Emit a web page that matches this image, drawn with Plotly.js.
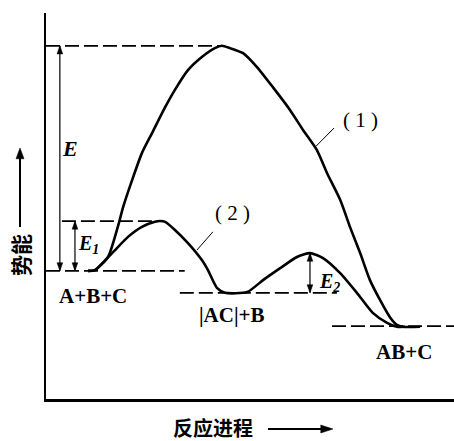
<!DOCTYPE html>
<html><head><meta charset="utf-8">
<script src="https://cdn.plot.ly/plotly-3.0.1.min.js"></script>
<style>html,body{margin:0;padding:0;background:#fff;}#chart{width:454px;height:441px;}</style>
</head><body><div id="chart"></div>
<script>
// Reaction progress (x, 0-100) and potential energy (y, 0-100)
const curve1X = [10.3,12.0,15.2,17.6,18.9,21.1,23.5,26.0,29.2,31.6,34.8,38.2,41.4,43.1,45.1,48.3,51.7,55.6,59.8,63.0,66.4,68.9,72.1,74.5,77.0,79.4,81.9,84.3,86.0,87.5,91.7];
const curve1Y = [33.2,33.4,36.8,44.6,49.7,56.7,63.7,68.9,75.6,80.1,85.2,88.6,90.9,91.5,90.9,89.6,86.0,80.8,74.9,69.7,64.5,58.5,51.6,44.6,37.8,30.8,25.6,21.2,19.2,18.7,18.7];
const curve2X = [10.3,12.0,16.2,20.1,23.5,26.7,27.9,29.2,31.6,34.8,38.2,39.7,41.9,43.9,49.3,53.2,57.4,61.5,64.7,67.9,72.1,76.2,80.1,83.6,86.0,88.0];
const curve2Y = [33.2,33.4,37.8,42.0,44.6,45.9,46.1,45.9,43.8,40.4,36.0,33.4,28.8,27.5,27.7,30.8,33.9,36.8,37.8,36.5,32.6,27.5,22.3,19.7,18.7,18.7];

// Energy levels (dashed guide lines)
const levelNames = ['E peak','E1 peak','A+B+C','[AC]+B','AB+C'];
const levelY  = [91.5, 46.1, 33.2, 27.5, 18.9];
const levelX0 = [0, 3.9, 0, 32.8, 70.1];
const levelX1 = [43.1, 28.0, 34.0, 71.3, 100];

// Energy-difference arrows
const arrowNames = ['E','E<sub>1</sub>','E<sub>2</sub>'];
const arrowX    = [3.4, 7.1, 64.7];
const arrowYTop = [91.5, 46.1, 37.8];
const arrowYBot = [33.2, 33.2, 27.5];
const arrowLabelX = [5.9, 10.3, 69.4];
const arrowLabelY = [65.0, 39.9, 30.1];

// Text labels
const labelText = ['A+B+C','|AC|+B','AB+C'];
const labelX = [11.5, 45.6, 87.7];
const labelY = [26.7, 21.8, 12.2];

const curveNames = ['( 1 )','( 2 )'];
const curveLabelX = [77.0, 45.8];
const curveLabelY = [72.3, 48.2];
const leaderX0 = [66.2, 37.0], leaderY0 = [65.5, 38.6];
const leaderX1 = [70.6, 40.9], leaderY1 = [70.2, 43.3];

const axisTitleX = '反应进程';
const axisTitleY = '势能';

const serif = 'Liberation Serif, Times New Roman, serif';
const cjk = 'Noto Sans CJK SC';

const traces = [
  {x: curve1X, y: curve1Y, mode:'lines', line:{color:'#000', width:2.6, shape:'spline', smoothing:0.6}, name:'(1)', hoverinfo:'skip'},
  {x: curve2X, y: curve2Y, mode:'lines', line:{color:'#000', width:2.6, shape:'spline', smoothing:0.6}, name:'(2)', hoverinfo:'skip'}
];

const shapes = [];
levelY.forEach((y,i)=>{
  shapes.push({type:'line', xref:'x', yref:'y', x0:levelX0[i], x1:levelX1[i], y0:y, y1:y,
    line:{color:'#000', width:1.8, dash:'14px,5px'}});
});
leaderX0.forEach((x,i)=>{
  shapes.push({type:'line', xref:'x', yref:'y', x0:x, y0:leaderY0[i], x1:leaderX1[i], y1:leaderY1[i],
    line:{color:'#000', width:1}});
});
// vertical double arrows (data units: head length hl in y, half width hw in x)
const hl = 2.1, hw = 0.7;
arrowX.forEach((x,i)=>{
  const t = arrowYTop[i], b = arrowYBot[i];
  shapes.push({type:'line', xref:'x', yref:'y', x0:x, x1:x, y0:b, y1:t, line:{color:'#000', width:1.2}});
  shapes.push({type:'path', xref:'x', yref:'y', path:`M ${x} ${t} L ${x-hw} ${t-hl} L ${x+hw} ${t-hl} Z`,
    fillcolor:'#000', line:{color:'#000', width:0.5}});
  shapes.push({type:'path', xref:'x', yref:'y', path:`M ${x} ${b} L ${x-hw} ${b+hl} L ${x+hw} ${b+hl} Z`,
    fillcolor:'#000', line:{color:'#000', width:0.5}});
});
// axis-title arrows (paper units)
const yArrX = -0.0637, yArrY0 = 0.4456, yArrY1 = 0.6503;
shapes.push({type:'line', xref:'paper', yref:'paper', x0:yArrX, x1:yArrX, y0:yArrY0, y1:yArrY1-0.02, line:{color:'#000', width:2}});
shapes.push({type:'path', xref:'paper', yref:'paper', path:`M ${yArrX} ${yArrY1} L ${yArrX-0.0098} ${yArrY1-0.028} L ${yArrX+0.0098} ${yArrY1-0.028} Z`,
  fillcolor:'#000', line:{color:'#000', width:0.5}});
const xArrY = -0.0777, xArrX0 = 0.544, xArrX1 = 0.7034;
shapes.push({type:'line', xref:'paper', yref:'paper', x0:xArrX0, x1:xArrX1-0.02, y0:xArrY, y1:xArrY, line:{color:'#000', width:2}});
shapes.push({type:'path', xref:'paper', yref:'paper', path:`M ${xArrX1} ${xArrY} L ${xArrX1-0.03} ${xArrY-0.0104} L ${xArrX1-0.03} ${xArrY+0.0104} Z`,
  fillcolor:'#000', line:{color:'#000', width:0.5}});

const annotations = [];
arrowNames.forEach((t,i)=>{
  annotations.push({x:arrowLabelX[i], y:arrowLabelY[i], xref:'x', yref:'y', text:'<b><i>'+t+'</i></b>', showarrow:false,
    xanchor:'center', yanchor:'middle', font:{family:serif, size: i===0?22:20, color:'#000'}});
});
labelText.forEach((t,i)=>{
  annotations.push({x:labelX[i], y:labelY[i], xref:'x', yref:'y', text:'<b>'+t+'</b>', showarrow:false,
    xanchor:'center', yanchor:'middle', font:{family:serif, size:21, color:'#000'}});
});
curveNames.forEach((t,i)=>{
  annotations.push({x:curveLabelX[i], y:curveLabelY[i], xref:'x', yref:'y', text:t, showarrow:false,
    xanchor:'center', yanchor:'middle', font:{family:serif, size:21, color:'#000'}});
});
annotations.push({x:-0.064, y:0.373, xref:'paper', yref:'paper', text:'<b>'+axisTitleY+'</b>', textangle:-90, showarrow:false,
  xanchor:'center', yanchor:'middle', borderpad:0, font:{family:cjk, size:21, color:'#000'}});
annotations.push({x:0.41, y:-0.075, xref:'paper', yref:'paper', text:'<b>'+axisTitleX+'</b>', showarrow:false,
  xanchor:'center', yanchor:'middle', borderpad:0, font:{family:cjk, size:20, color:'#000'}});

const layout = {
  width:454, height:441,
  margin:{l:46, r:0, t:13, b:42, pad:0},
  paper_bgcolor:'#fff', plot_bgcolor:'#fff',
  showlegend:false,
  xaxis:{range:[0,100], showline:true, linewidth:2.5, linecolor:'#000', showgrid:false, zeroline:false,
    showticklabels:false, ticks:'', fixedrange:true},
  yaxis:{range:[0,100], showline:true, linewidth:2.5, linecolor:'#000', showgrid:false, zeroline:false,
    showticklabels:false, ticks:'', fixedrange:true},
  shapes: shapes,
  annotations: annotations
};
Plotly.newPlot('chart', traces, layout, {displayModeBar:false, staticPlot:true});
</script></body></html>
